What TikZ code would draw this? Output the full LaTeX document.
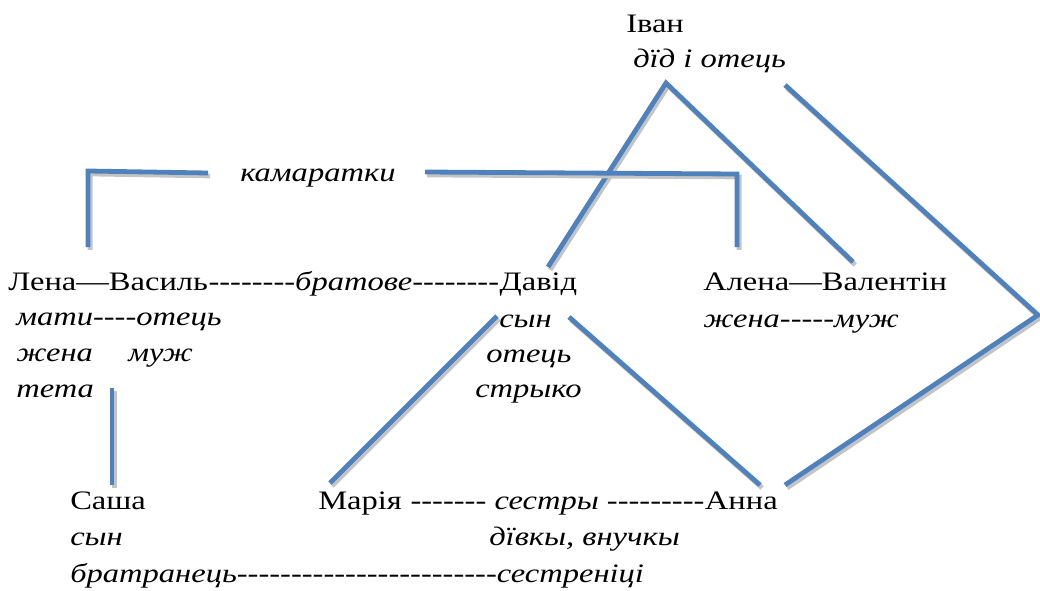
\documentclass[tikz,border=0pt]{standalone}
\usepackage{fontspec}
\setmainfont{Liberation Serif}[FakeStretch=1.22,Ligatures=TeXOff]
\usetikzlibrary{positioning}
\definecolor{Tie}{HTML}{4F81BD}
\definecolor{Shade}{HTML}{C4C4C4}
\newcommand{\tie}[1]{%
  \draw[Shade,line width=3.6pt,transform canvas={shift={(1.6pt,-2.2pt)}}] #1;
  \draw[Tie,line width=3.6pt] #1;
}
\tikzset{
  person/.style={anchor=base west,inner sep=0pt,font=\fontsize{20}{24}\selectfont},
  role/.style={person,font=\fontsize{20}{24}\selectfont\itshape}
}

\begin{document}
\begin{tikzpicture}[x=0.75pt,y=-0.75pt]
        \useasboundingbox (0,0) rectangle (1040,590);
        % people and roles
        \node[person] (ivan) at (626,32) {Іван};
        \node[role] (ivanrole) at (633,67) {дїд і отець};
        \node[role] (kamaratky) at (240,181) {камаратки};
        \node[person] (lenavasyl) at (8,290) {Лена—Василь};
        \node[person,anchor=base west] (bratove) at (lenavasyl.base east) {--------\textit{братове}--------};
        \node[person,anchor=base west] (david) at (bratove.base east) {Давід};
        \node[person] (alenaval) at (703,290) {Алена—Валентін};
        \node[role] (matotec) at (16,325) {мати----отець};
        \node[role] (zhena) at (16,361) {жена};
        \node[role] (muzh) at (128,361) {муж};
        \node[role] (teta) at (16,397) {тета};
        \node[role] (davidson) at (499,327) {сын};
        \node[role] (davidotec) at (486,362) {отець};
        \node[role] (stryko) at (475,397) {стрыко};
        \node[role] (zhenamuzh) at (703,327) {жена-----муж};
        \node[person] (sasha) at (70,509) {Саша};
        \node[role] (sashason) at (70,545) {сын};
        \node[role] (bratranec) at (70,582) {братранець------------------------сестреніці};
        \node[person] (maria) at (318,509) {Марія};
        \node[person,anchor=base west] (sestry) at (maria.base east) {~------- \textit{сестры} ---------};
        \node[person,anchor=base west] (anna) at (sestry.base east) {Анна};
        \node[role] (divky) at (489,545) {дївкы, внучкы};
        % line ends
        \coordinate (ivanpeak) at (666,83);
        \coordinate (ivanend) at (785,85);
        \coordinate (rightcorner) at (1038,315);
        \coordinate (annaend) at (785,485);
        \coordinate (davidtop) at (548,267);
        \coordinate (valtop) at (853,262);
        \coordinate (lenatop) at (88,247);
        \coordinate (lenacorner) at (88,171);
        \coordinate (kamleft) at (208,173);
        \coordinate (kamright) at (425,172);
        \coordinate (alenacorner) at (737,174);
        \coordinate (alenatop) at (737,247);
        \coordinate (tetaend) at (112,388);
        \coordinate (sashatop) at (112,485);
        \coordinate (sonleft) at (497,316);
        \coordinate (mariatop) at (330,483);
        \coordinate (sonright) at (569,317);
        \coordinate (annatop) at (760,485);
        % ties
        \tie{(davidtop) -- (ivanpeak) -- (valtop)}
        \tie{(ivanend) -- (rightcorner) -- (annaend)}
        \tie{(lenatop) -- (lenacorner) -- (kamleft)}
        \tie{(kamright) -- (alenacorner) -- (alenatop)}
        \tie{(tetaend) -- (sashatop)}
        \tie{(sonleft) -- (mariatop)}
        \tie{(sonright) -- (annatop)}
      \end{tikzpicture}
\end{document}
